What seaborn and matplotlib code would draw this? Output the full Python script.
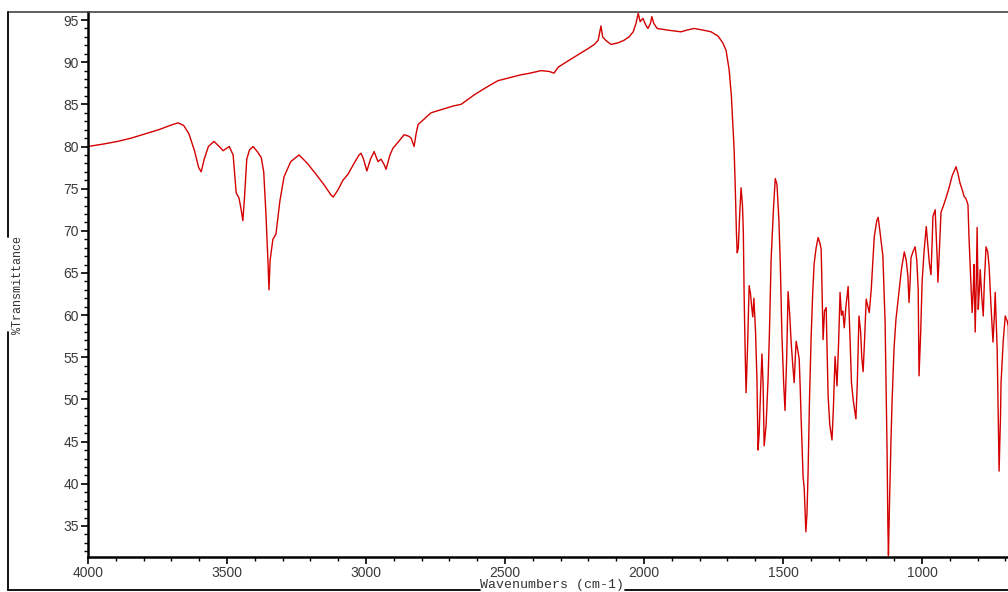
import matplotlib
matplotlib.use("Agg")
import matplotlib.pyplot as plt
import seaborn as sns
import pandas as pd
from matplotlib.lines import Line2D
from matplotlib.ticker import MultipleLocator

wavenumber = [
    4000, 3943, 3894, 3844, 3795, 3745, 3696, 3676, 3656, 3637, 3617, 3602, 3593, 3582, 3567,
    3547, 3528, 3514, 3492, 3478, 3467, 3457, 3449, 3443, 3437, 3429, 3419, 3406, 3389, 3377,
    3368, 3360, 3353, 3349, 3345, 3335, 3324, 3310, 3295, 3271, 3241, 3211, 3182, 3152, 3127,
    3118, 3102, 3083, 3065, 3043, 3025, 3018, 3009, 2997, 2984, 2971, 2957, 2946, 2934, 2928,
    2914, 2903, 2885, 2863, 2845, 2838, 2827, 2820, 2813, 2786, 2766, 2727, 2687, 2658, 2612,
    2568, 2526, 2479, 2443, 2410, 2370, 2341, 2324, 2309, 2271, 2227, 2202, 2179, 2165, 2155,
    2149, 2138, 2119, 2093, 2072, 2054, 2039, 2029, 2021, 2014, 2004, 1994, 1986, 1977, 1972,
    1965, 1953, 1915, 1867, 1846, 1820, 1787, 1759, 1734, 1717, 1705, 1694, 1686, 1680, 1676,
    1671, 1668, 1665, 1661, 1656, 1651, 1646, 1643, 1640, 1636, 1633, 1628, 1622, 1617, 1613,
    1609, 1605, 1599, 1594, 1590, 1586, 1581, 1576, 1572, 1568, 1561, 1554, 1549, 1543, 1534,
    1528, 1522, 1515, 1510, 1504, 1498, 1493, 1487, 1482, 1476, 1471, 1465, 1460, 1456, 1453,
    1448, 1442, 1438, 1435, 1428, 1424, 1418, 1414, 1410, 1405, 1399, 1393, 1388, 1381, 1374,
    1367, 1363, 1359, 1356, 1351, 1345, 1341, 1338, 1332, 1324, 1319, 1313, 1309, 1306, 1300,
    1295, 1290, 1285, 1280, 1274, 1266, 1260, 1254, 1248, 1238, 1233, 1227, 1221, 1217, 1212,
    1207, 1201, 1195, 1190, 1183, 1172, 1163, 1158, 1150, 1141, 1136, 1133, 1129, 1126, 1123,
    1121, 1117, 1112, 1108, 1101, 1094, 1086, 1074, 1064, 1057, 1051, 1047, 1043, 1040, 1033,
    1025, 1019, 1014, 1011, 1005, 1000, 993, 985, 980, 974, 968, 964, 961, 953, 946,
    943, 938, 932, 923, 914, 903, 892, 878, 871, 864, 857, 849, 842, 835, 831,
    827, 823, 820, 816, 813, 809, 805, 802, 798, 794, 791, 785, 780, 776, 770,
    764, 759, 752, 745, 740, 737, 733, 730, 726, 723, 718, 716, 708, 701, 694,
    690, 687,
]

transmittance = [
    80.0, 80.3, 80.6, 81.0, 81.5, 82.0, 82.6, 82.8, 82.5, 81.5, 79.5, 77.5, 77.0, 78.5, 80.0,
    80.6, 80.0, 79.5, 80.0, 79.0, 74.5, 73.9, 72.5, 71.2, 74.0, 78.5, 79.6, 80.0, 79.3, 78.7,
    77.0, 72.0, 66.6, 63.0, 66.5, 69.0, 69.6, 73.5, 76.4, 78.2, 79.0, 78.0, 76.8, 75.5, 74.3,
    74.0, 74.8, 76.0, 76.7, 78.0, 79.0, 79.2, 78.5, 77.1, 78.5, 79.4, 78.2, 78.5, 77.8, 77.3,
    79.0, 79.8, 80.5, 81.4, 81.2, 81.0, 80.0, 81.5, 82.6, 83.4, 84.0, 84.4, 84.8, 85.0, 86.1,
    87.0, 87.8, 88.2, 88.5, 88.7, 89.0, 88.9, 88.7, 89.4, 90.2, 91.1, 91.6, 92.1, 92.6, 94.3,
    93.0, 92.6, 92.1, 92.3, 92.6, 93.0, 93.6, 94.6, 95.8, 94.8, 95.2, 94.4, 94.0, 94.6, 95.4,
    94.6, 94.0, 93.8, 93.6, 93.8, 94.0, 93.8, 93.6, 93.1, 92.3, 91.4, 89.1, 86.0, 82.0, 79.6,
    74.0, 70.0, 67.4, 68.0, 72.0, 75.1, 73.0, 70.0, 62.2, 55.0, 50.8, 56.0, 63.5, 62.5, 61.0,
    59.8, 62.0, 58.0, 52.4, 44.0, 46.0, 51.0, 55.4, 52.0, 44.5, 47.0, 52.4, 58.0, 66.6, 73.0,
    76.2, 75.5, 71.3, 66.0, 57.5, 52.0, 48.7, 55.0, 62.8, 60.0, 56.8, 54.0, 52.0, 55.0, 56.9,
    56.0, 54.8, 51.0, 47.7, 40.8, 39.5, 34.3, 36.5, 41.4, 50.0, 57.5, 63.0, 66.2, 68.0, 69.2,
    68.5, 67.8, 62.0, 57.1, 60.5, 60.9, 55.0, 50.4, 47.0, 45.2, 49.0, 55.1, 53.0, 51.6, 57.0,
    62.7, 60.0, 60.5, 58.5, 61.0, 63.4, 58.0, 52.0, 50.0, 47.7, 52.0, 59.9, 58.0, 55.0, 53.3,
    57.0, 61.9, 61.0, 60.3, 63.0, 69.3, 71.2, 71.6, 69.5, 67.0, 62.0, 59.1, 50.0, 44.0, 35.0,
    31.5, 38.0, 45.0, 49.7, 56.0, 59.5, 61.9, 65.5, 67.5, 66.5, 64.6, 61.5, 64.0, 66.8, 67.5,
    68.1, 66.5, 63.0, 52.8, 58.0, 63.9, 67.5, 70.5, 68.5, 66.2, 64.8, 68.5, 71.7, 72.5, 67.0,
    63.9, 67.5, 72.2, 73.0, 73.9, 75.1, 76.5, 77.6, 76.8, 75.7, 75.0, 74.1, 73.8, 73.1, 69.0,
    65.8, 62.5, 60.3, 63.0, 66.0, 58.0, 64.0, 70.4, 60.7, 63.0, 65.4, 62.0, 59.9, 64.0, 68.1,
    67.5, 65.8, 61.0, 56.8, 60.0, 62.7, 59.0, 56.0, 48.0, 41.5, 48.0, 52.0, 57.0, 59.9, 59.3,
    58.7, 52.0,
]

x_label = "Wavenumbers (cm-1)"
y_label = "%Transmittance"

sns.set_style("ticks")
plt.rcParams['font.family'] = ['Liberation Sans', 'DejaVu Sans']

W, H = 1008, 592
fig = plt.figure(figsize=(W / 100, H / 100), dpi=100)
ax = fig.add_axes([88 / W, 35 / H, (W - 88) / W, (557 - 12) / H])

df = pd.DataFrame({"wn": wavenumber, "T": transmittance})
sns.lineplot(data=df, x="wn", y="T", sort=False, estimator=None,
             color="#d40000", linewidth=1.0, ax=ax)

ax.set_xlim(4000, 691)
ax.set_ylim(31.32, 95.95)
ax.xaxis.set_major_locator(MultipleLocator(500))
ax.xaxis.set_minor_locator(MultipleLocator(100))
ax.yaxis.set_major_locator(MultipleLocator(5))
ax.yaxis.set_minor_locator(MultipleLocator(1))
ax.tick_params(which="major", length=5, width=1.2, direction="out",
               labelsize=10, labelcolor="#3a3a3a", color="black", pad=1.5)
ax.tick_params(which="minor", length=3, width=1.0, direction="out", color="black")
ax.set_xlabel("")
ax.set_ylabel("")
for s in ["right", "top"]:
    ax.spines[s].set_visible(False)
for s in ["left", "bottom"]:
    ax.spines[s].set_linewidth(1.8)
    ax.spines[s].set_color("black")

def fl(x0, y0, x1, y1, lw=1.3, color="black"):
    fig.add_artist(Line2D([x0 / W, x1 / W], [1 - y0 / H, 1 - y1 / H],
                          transform=fig.transFigure, color=color, lw=lw))

fl(8, 12, W, 12, lw=1.2, color="#444444")
fl(8, 12, 8, 237)
fl(8, 332, 8, 590)
fl(8, 590, 480, 590)
fl(625, 590, W, 590)

fig.text(552 / W, 1 - 585 / H, x_label, ha="center", va="center",
         family=["Liberation Mono", "DejaVu Sans Mono"], fontsize=9.5, color="#333333")
fig.text(18 / W, 1 - 285 / H, y_label, ha="center", va="center", rotation=90,
         family=["Liberation Mono", "DejaVu Sans Mono"], fontsize=8.5, color="#333333")

fig.savefig("out.png", dpi=100)
